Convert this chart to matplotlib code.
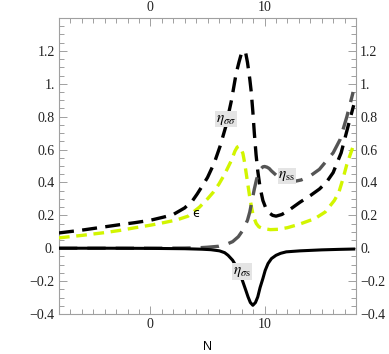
import matplotlib
matplotlib.use("Agg")
import matplotlib.pyplot as plt
from matplotlib.ticker import FixedLocator, MultipleLocator

# eta_sigma_sigma (black dashed)
x_ss2 = [-8.0, -6.0, -4.0, -2.5, -1.4, 0.0, 1.2, 2.0, 3.0, 3.7, 4.1, 4.6, 5.0, 5.6, 6.1, 6.6,
         7.1, 7.5, 7.75, 7.95, 8.1, 8.2, 8.35, 8.5, 8.7, 8.83, 8.97, 9.1, 9.25, 9.4, 9.6, 9.85,
         10.1, 10.4, 10.7, 11.0, 11.5, 12.0, 13.1, 14.0, 14.8, 15.4, 16.0, 16.7, 17.3, 17.8]
y_ss2 = [0.093, 0.11, 0.13, 0.145, 0.155, 0.17, 0.19, 0.205, 0.245, 0.29, 0.33, 0.385, 0.43, 0.52,
         0.62, 0.74, 0.90, 1.06, 1.13, 1.18, 1.198, 1.20, 1.185, 1.13, 1.03, 0.95, 0.83, 0.70,
         0.57, 0.47, 0.37, 0.29, 0.245, 0.215, 0.2, 0.195, 0.205, 0.225, 0.28, 0.32, 0.36, 0.40,
         0.46, 0.58, 0.74, 0.87]

# epsilon (yellow-green dashed)
x_eps = [-8.0, -6.0, -4.0, -2.5, -1.4, 0.0, 1.2, 2.3, 3.3, 4.3, 5.0, 5.5, 6.0, 6.5, 7.1, 7.4,
         7.6, 7.75, 7.9, 8.1, 8.25, 8.4, 8.55, 8.7, 8.85, 8.97, 9.1, 9.27, 9.5, 9.85, 10.5, 11.2,
         12.0, 13.0, 14.4, 15.3, 16.1, 16.5, 16.85, 17.2, 17.7]
y_eps = [0.063, 0.078, 0.095, 0.11, 0.124, 0.14, 0.156, 0.172, 0.195, 0.25, 0.30, 0.34, 0.39,
         0.45, 0.535, 0.59, 0.615, 0.62, 0.61, 0.576, 0.52, 0.45, 0.38, 0.31, 0.25, 0.21, 0.18,
         0.15, 0.13, 0.12, 0.113, 0.115, 0.125, 0.145, 0.18, 0.22, 0.29, 0.34, 0.42, 0.51, 0.61]

# eta_ss (dark grey dashed)
x_sss = [-8.0, -4.0, 0.0, 3.0, 4.3, 5.0, 6.0, 6.7, 7.2, 7.7, 8.1, 8.5, 8.7, 8.9, 9.1, 9.3,
         9.5, 9.7, 9.85, 10.0, 10.2, 10.4, 10.6, 11.0, 11.5, 12.0, 12.5, 13.2, 14.0, 14.8,
         15.4, 16.0, 16.6, 17.2, 17.75]
y_sss = [0.0, 0.0, 0.0, 0.001, 0.003, 0.006, 0.012, 0.025, 0.04, 0.07, 0.11, 0.17, 0.22, 0.29,
         0.36, 0.42, 0.46, 0.485, 0.495, 0.497, 0.493, 0.485, 0.47, 0.445, 0.425, 0.41, 0.405,
         0.415, 0.44, 0.48, 0.53, 0.58, 0.66, 0.80, 0.95]

# eta_sigma_s (solid black)
x_ss1 = [-8.0, -4.0, 0.0, 3.0, 4.5, 5.3, 6.05, 6.5, 6.8, 7.2, 7.6, 7.9, 8.1, 8.35, 8.55,
         8.75, 8.97, 9.2, 9.4, 9.6, 9.85, 10.05, 10.3, 10.6, 11.0, 11.4, 11.9, 13.1, 15.0,
         16.5, 17.8]
y_ss1 = [0.0, 0.0, -0.001, -0.003, -0.006, -0.009, -0.016, -0.027, -0.043, -0.073, -0.12,
         -0.165, -0.205, -0.255, -0.296, -0.33, -0.347, -0.33, -0.296, -0.24, -0.184, -0.135,
         -0.093, -0.063, -0.043, -0.031, -0.022, -0.016, -0.01, -0.007, -0.005]

xticks_major = [0, 10]
yticks_major = [-0.4, -0.2, 0.0, 0.2, 0.4, 0.6, 0.8, 1.0, 1.2]
ytick_labels = ["\u22120.4", "\u22120.2", "0.", "0.2", "0.4", "0.6", "0.8", "1.", "1.2"]
xtick_labels = ["0", "10"]

fig = plt.figure(figsize=(3.89, 3.54), dpi=100)
ax = fig.add_axes([59 / 389, 40 / 354, 297 / 389, 296 / 354])

ax.plot(x_ss2, y_ss2, color="black", lw=2.4, dashes=(4.5, 2.5), zorder=3)
ax.plot(x_eps, y_eps, color="#d2f500", lw=2.4, dashes=(3.2, 2.0), zorder=3)
ax.plot(x_sss, y_sss, color="#555555", lw=2.4, dashes=(5.5, 3.0), zorder=3)
ax.plot(x_ss1, y_ss1, color="black", lw=2.2, zorder=4)

ax.set_xlim(-8, 18)
ax.set_ylim(-0.4, 1.4)

frame_col = "#a0a0a0"
for s in ax.spines.values():
    s.set_color(frame_col)
    s.set_linewidth(0.8)

ax.xaxis.set_major_locator(FixedLocator(xticks_major))
ax.xaxis.set_minor_locator(MultipleLocator(1))
ax.yaxis.set_major_locator(FixedLocator(yticks_major))
ax.yaxis.set_minor_locator(MultipleLocator(0.05))
ax.set_xticklabels(xtick_labels)
ax.set_yticklabels(ytick_labels)
ax.tick_params(which="both", direction="in", color=frame_col, width=0.7,
               top=True, right=True, labeltop=True, labelright=True,
               labelsize=10, labelcolor="#222222", pad=3)
ax.tick_params(which="major", length=6)
ax.tick_params(which="minor", length=3.5)
ax.xaxis.set_tick_params(labelfontfamily="Liberation Serif")
ax.yaxis.set_tick_params(labelfontfamily="Liberation Serif")

ax.set_xlabel("N", family="Liberation Sans", fontsize=9, labelpad=7)

plt.rcParams["mathtext.fontset"] = "stix"
box = dict(boxstyle="square,pad=0.05", facecolor="#e4e4e4", edgecolor="none")
ax.text(6.6, 0.785, r"$\eta_{\sigma\sigma}$", fontsize=11, ha="center", va="center",
        bbox=box, zorder=6)
ax.text(11.95, 0.44, r"$\eta_{\mathrm{ss}}$", fontsize=11, ha="center", va="center",
        bbox=box, zorder=6)
ax.text(8.0, -0.14, r"$\eta_{\sigma\mathrm{s}}$", fontsize=11, ha="center", va="center",
        bbox=box, zorder=6)
ax.text(4.0, 0.21, "\u03f5", fontsize=9, ha="center", va="center",
        family="DejaVu Sans", zorder=6)

fig.savefig("out.png", dpi=100)
